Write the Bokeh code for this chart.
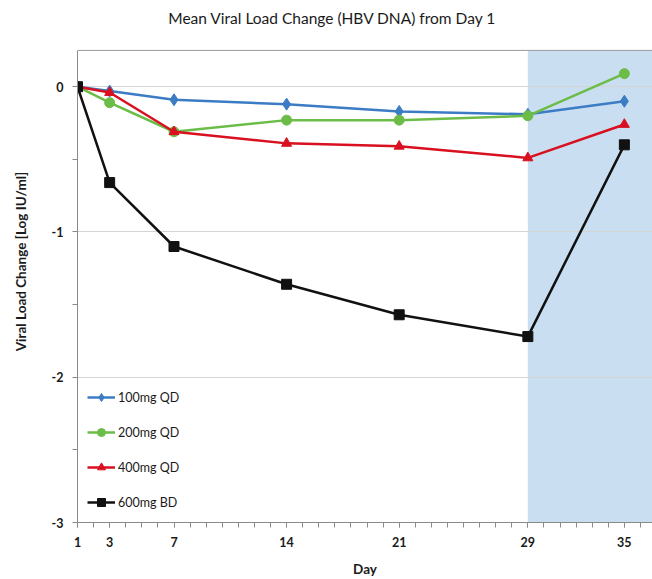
from bokeh.plotting import figure
from bokeh.models import (FixedTicker, BoxAnnotation, Legend, LegendItem, Range1d, Label, Span)
from bokeh.embed import file_html
from bokeh.resources import INLINE

days = [1, 3, 7, 14, 21, 29, 35]
dose_100qd = [0.0, -0.03, -0.09, -0.12, -0.17, -0.19, -0.10]
dose_200qd = [0.0, -0.11, -0.31, -0.23, -0.23, -0.20, 0.09]
dose_400qd = [0.0, -0.04, -0.31, -0.39, -0.41, -0.49, -0.26]
dose_600bd = [0.0, -0.66, -1.10, -1.36, -1.57, -1.72, -0.40]
series_names = ["100mg QD", "200mg QD", "400mg QD", "600mg BD"]
x_ticks = [1, 3, 7, 14, 21, 29, 35]
y_ticks = [0, -1, -2, -3]
shade_start = 29
title_text = "Mean Viral Load Change (HBV DNA) from Day 1"

FONT = "Lato"

# layout (pixels)
W, H = 652, 579
LEFT, BOTTOM = 77, 56
AXIS_TOP_PX = 50          # where the axes box starts below the page top
y_min, y_max = -3.0, 0.25
frame_h = H - BOTTOM
axes_h = frame_h - AXIS_TOP_PX
y_top = y_max + (y_max - y_min) * AXIS_TOP_PX / axes_h

p = figure(width=W, height=H, output_backend="svg", toolbar_location=None,
           title=None,
           x_range=Range1d(1, 36.75), y_range=Range1d(y_min, y_top),
           min_border_left=LEFT, min_border_top=0, min_border_bottom=BOTTOM,
           min_border_right=0)

title = Label(x=255, y=frame_h - 18, x_units="screen", y_units="screen", text=title_text,
              text_align="center", text_baseline="middle",
              text_font=FONT, text_font_size="15.5px", text_color="#1a1a1a")
p.add_layout(title)

p.outline_line_color = None
p.background_fill_color = "white"
p.border_fill_color = "white"

shade = BoxAnnotation(left=shade_start, top=y_max, fill_color="#cadef1", fill_alpha=1.0,
                      line_color=None, level="image")
p.add_layout(shade)

top_line = Span(location=y_max, dimension="width", line_color="#9a9a9a", line_width=1)
p.add_layout(top_line)

p.xgrid.visible = False
p.ygrid.grid_line_color = "#d4d4d4"
p.ygrid.grid_line_width = 1

p.xaxis.ticker = FixedTicker(ticks=x_ticks, minor_ticks=list(range(1, 37)))
p.yaxis.ticker = FixedTicker(ticks=y_ticks, minor_ticks=[-0.5, -1.5, -2.5])
p.yaxis.major_label_overrides = {0: "0", -1: "-1", -2: "-2", -3: "-3"}
p.yaxis.bounds = (y_min, y_max)

for ax in (p.xaxis, p.yaxis):
    ax.axis_line_color = "#8a8a8a"
    ax.major_tick_line_color = "#8a8a8a"
    ax.minor_tick_line_color = "#8a8a8a"
    ax.major_tick_in = 0
    ax.major_tick_out = 5
    ax.minor_tick_in = 0
    ax.minor_tick_out = 5
    ax.major_label_text_font = FONT
    ax.major_label_text_font_style = "bold"
    ax.major_label_text_font_size = "12.5px"
    ax.major_label_text_color = "#1a1a1a"
    ax.axis_label_text_font = FONT
    ax.axis_label_text_font_style = "bold"
    ax.axis_label_text_font_size = "13.5px"
    ax.axis_label_text_color = "#1a1a1a"

p.xaxis.axis_label = "Day"
p.yaxis.axis_label = "Viral Load Change [Log IU/ml]"
p.xaxis.major_label_standoff = 9
p.xaxis.axis_label_standoff = 11
p.yaxis.major_label_standoff = 9
p.yaxis.axis_label_standoff = 20

colors = ["#3b7cc4", "#6cbd48", "#d81020", "#111111"]
markers = ["diamond", "circle", "triangle", "square"]
sizes = [12, 10, 10, 10]
data = [dose_100qd, dose_200qd, dose_400qd, dose_600bd]

items = []
for name, vals, c, m, s in zip(series_names, data, colors, markers, sizes):
    ln = p.line(days, vals, line_color=c, line_width=2.5)
    sc = p.scatter(days, vals, marker=m, size=s, fill_color=c, line_color=c)
    items.append(LegendItem(label=name, renderers=[ln, sc]))

legend = Legend(items=items, location=(10, 10), background_fill_alpha=0,
                border_line_color=None, padding=0, margin=0,
                glyph_width=28, glyph_height=20, label_height=20, spacing=15,
                label_standoff=3,
                label_text_font=FONT, label_text_font_size="12.5px",
                label_text_color="#1a1a1a")
p.add_layout(legend, "center")

open("out.html", "w").write(file_html(p, INLINE))
